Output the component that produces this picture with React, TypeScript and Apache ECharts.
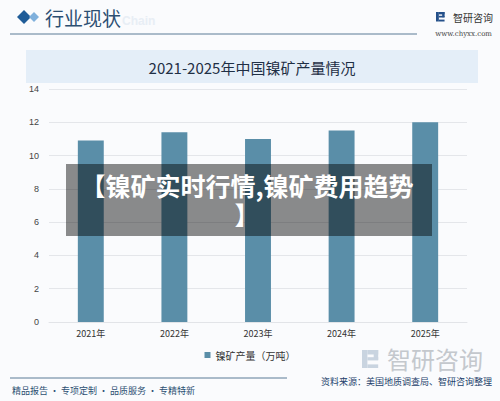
import React, { useEffect, useRef } from "react";
import * as echarts from "echarts";

const categories = ["2021年", "2022年", "2023年", "2024年", "2025年"];
const production = [10.9, 11.4, 11.0, 11.5, 12.0];
const seriesName = "镍矿产量（万吨）";
const chartTitle = "2021-2025年中国镍矿产量情况";
const headerText = "行业现状";
const overlayLine1 = "【镍矿实时行情,镍矿费用趋势";
const overlayLine2 = "】";
const sourceText = "资料来源：美国地质调查局、智研咨询整理";
const sloganText = "精品报告 · 专项定制 · 品质服务 · 专精特新";

const CJK = '"Noto Sans CJK SC", "Noto Sans", sans-serif';
const BAR = "#5a8ea8";

function logoIcon(x: number, y: number, s: number, color: string) {
  return [
    { type: "rect", shape: { x: x, y: y, width: 3 * s, height: 10 * s }, style: { fill: color } },
    { type: "rect", shape: { x: x + 3 * s, y: y, width: 6 * s, height: 2.5 * s }, style: { fill: color } },
    { type: "rect", shape: { x: x + 6.5 * s, y: y, width: 2.5 * s, height: 5.5 * s }, style: { fill: color } },
    { type: "rect", shape: { x: x + 3 * s, y: y + 4 * s, width: 6 * s, height: 1.8 * s }, style: { fill: color } },
    { type: "rect", shape: { x: x + 3 * s, y: y + 8 * s, width: 6 * s, height: 2 * s }, style: { fill: color } },
  ];
}

export default function App() {
  const ref = useRef<HTMLDivElement>(null);
  useEffect(() => {
    if (!ref.current) return;
    const chart = echarts.init(ref.current, null, { renderer: "svg" });
    chart.setOption({
      animation: false,
      backgroundColor: "#fafbfd",
      grid: { left: 49, right: 33, top: 89, bottom: 79 },
      legend: {
        data: [seriesName],
        left: "center",
        top: 345,
        itemWidth: 6,
        itemHeight: 6,
        icon: "rect",
        itemGap: 4,
        textStyle: { fontSize: 10, color: "#333", fontFamily: CJK },
      },
      xAxis: {
        type: "category",
        data: categories,
        axisLine: { lineStyle: { color: "#e2e4e8" } },
        axisTick: { show: false },
        axisLabel: { fontSize: 9, color: "#333", margin: 7, fontFamily: CJK },
      },
      yAxis: {
        type: "value",
        min: 0,
        max: 14,
        interval: 2,
        axisLine: { show: false },
        axisTick: { show: false },
        axisLabel: { fontSize: 9, color: "#444", margin: 10, fontFamily: "Arial, sans-serif" },
        splitLine: { lineStyle: { color: "#e4e6ea" } },
      },
      series: [
        {
          name: seriesName,
          type: "bar",
          data: production,
          barWidth: "31%",
          itemStyle: { color: BAR },
        },
      ],
      graphic: [
        // header
        { type: "polygon", shape: { points: [[17, 17], [24, 10], [31, 17], [24, 24]] }, style: { fill: "#1f5c98" }, z: 10 },
        { type: "polygon", shape: { points: [[29, 17], [34, 12], [39, 17], [34, 22]] }, style: { fill: "#7fb0dc" }, z: 10 },
        { type: "text", x: 45, y: 17, style: { text: headerText, fontSize: 19, fill: "#2c4f72", fontFamily: CJK, verticalAlign: "middle" }, z: 10 },
        { type: "text", x: 122, y: 21, style: { text: "Chain", fontSize: 12, fontWeight: "bold", fill: "#e8eef5", fontFamily: "Arial, sans-serif", verticalAlign: "middle" }, z: 9 },
        { type: "line", shape: { x1: 10, y1: 34, x2: 417, y2: 34 }, style: { stroke: "#5b7a96", lineWidth: 1 }, z: 10 },
        ...logoIcon(436, 12, 0.95, "#24508a").map((e) => ({ ...e, z: 10 })),
        { type: "text", x: 453, y: 17, style: { text: "智研咨询", fontSize: 10, fill: "#333", fontFamily: CJK, verticalAlign: "middle" }, z: 10 },
        { type: "text", x: 492, y: 34, style: { text: "www.chyxx.com", fontSize: 7, fill: "#444", fontFamily: '"DejaVu Serif", serif', align: "right", verticalAlign: "middle" }, z: 10 },
        // title banner
        { type: "rect", shape: { x: 26, y: 50, width: 452, height: 33 }, style: { fill: "#e4eef8" }, z: 1 },
        { type: "text", x: 252, y: 67, style: { text: chartTitle, fontSize: 15, fill: "#1f2f45", fontFamily: CJK, align: "center", verticalAlign: "middle" }, z: 10 },
        // overlay
        { type: "rect", shape: { x: 66, y: 164, width: 366, height: 72 }, style: { fill: "rgba(0,0,0,0.45)" }, z: 100 },
        { type: "text", x: 247, y: 185, style: { text: overlayLine1, fontSize: 25, fontWeight: "bold", fill: "#ffffff", fontFamily: CJK, align: "center", verticalAlign: "middle" }, z: 101 },
        { type: "text", x: 247, y: 214, style: { text: overlayLine2, fontSize: 25, fontWeight: "bold", fill: "#ffffff", fontFamily: CJK, align: "center", verticalAlign: "middle" }, z: 101 },
        // bottom watermark logo
        ...logoIcon(362, 350, 1.8, "#c9d4e0").map((e) => ({ ...e, z: 5 })),
        { type: "text", x: 387, y: 358, style: { text: "智研咨询", fontSize: 24, fill: "#c4c8cd", fontFamily: CJK, verticalAlign: "middle" }, z: 5 },
        // footer
        { type: "line", shape: { x1: 10, y1: 378, x2: 287, y2: 378 }, style: { stroke: "#5b7a96", lineWidth: 1 }, z: 10 },
        { type: "text", x: 12, y: 390, style: { text: sloganText, fontSize: 9, fill: "#2c4f72", fontFamily: CJK, verticalAlign: "middle" }, z: 10 },
        { type: "text", x: 492, y: 381, style: { text: sourceText, fontSize: 9, fill: "#1d3f6b", fontFamily: CJK, align: "right", verticalAlign: "middle" }, z: 10 },
      ],
    });
    return () => chart.dispose();
  }, []);
  return <div ref={ref} style={{ width: 500, height: 401, position: "absolute", left: 0, top: 0 }} />;
}
